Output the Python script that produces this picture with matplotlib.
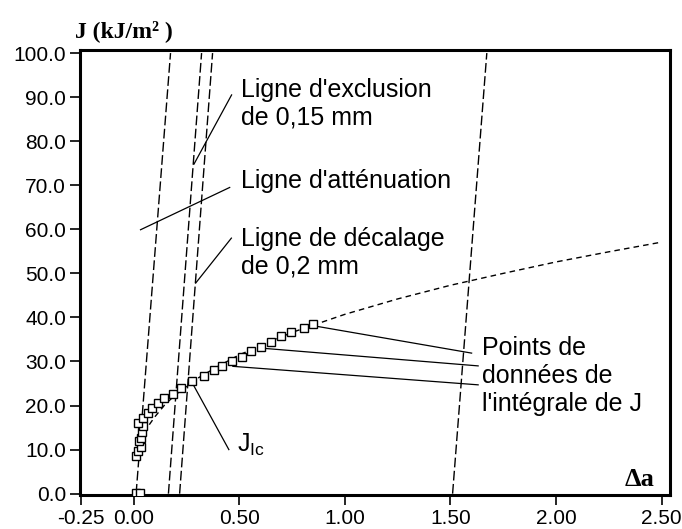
import matplotlib
matplotlib.use('Agg')
import matplotlib.pyplot as plt
import numpy as np

plt.rcParams['font.family'] = ['Liberation Sans', 'DejaVu Sans']
plt.rcParams['mathtext.fontset'] = 'custom'
plt.rcParams['mathtext.rm'] = 'Liberation Sans'

# J-integral data points (delta a in mm, J in kJ/m2)
da_pts = [0.012, 0.032, 0.013, 0.020, 0.033, 0.025, 0.036, 0.039, 0.047, 0.020,
          0.044, 0.068, 0.089, 0.115, 0.144, 0.189, 0.226, 0.276, 0.332, 0.38,
          0.42, 0.467, 0.513, 0.554, 0.605, 0.652, 0.696, 0.744, 0.807, 0.847]
j_pts = [0.2, 0.2, 8.5, 9.6, 10.7, 11.9, 12.6, 13.9, 15.3, 16.0,
         17.2, 18.3, 19.4, 20.6, 21.8, 22.7, 24.0, 25.5, 26.6, 28.0,
         29.0, 30.0, 31.0, 32.3, 33.3, 34.5, 35.7, 36.8, 37.6, 38.5]

# power-law fit curve
fit_da = [0.02, 0.03, 0.05, 0.075, 0.1, 0.15, 0.2, 0.3, 0.4, 0.5, 0.75,
          1.0, 1.25, 1.5, 1.75, 2.0, 2.25, 2.5]
fit_j = [9.6, 11.2, 13.5, 15.7, 17.4, 20.3, 22.5, 26.1, 28.9, 31.5, 36.6,
         40.7, 44.2, 47.3, 50.0, 52.6, 54.9, 57.1]

# construction lines: delta a at J = 0 and J = 100
line_j = [0, 100]
blunt_da = [0.012, 0.175]
excl015_da = [0.165, 0.322]
offset02_da = [0.218, 0.374]
excl15_da = [1.51, 1.672]

xticks = [-0.25, 0.0, 0.5, 1.0, 1.5, 2.0, 2.5]
yticks = [0, 10, 20, 30, 40, 50, 60, 70, 80, 90, 100]

fig = plt.figure(figsize=(6.82, 5.29), dpi=100)
ax = fig.add_axes([0.1173, 0.0643, 0.8651, 0.8412])

dash_long = (0, (7, 2.5))
for xs in (blunt_da, excl015_da, offset02_da, excl15_da):
    ax.plot(xs, line_j, color='black', lw=1.0, linestyle=dash_long)

ax.plot(fit_da, fit_j, color='black', lw=1.0, linestyle=(0, (4, 3)))
ax.plot(da_pts, j_pts, linestyle='none', marker='s', ms=5.2, mew=1.0,
        mfc='white', mec='black', zorder=5)

# pointer lines
lk = dict(color='black', lw=0.9)
ax.plot([0.464, 0.286], [90.5, 74.8], **lk)
ax.plot([0.455, 0.033], [69.5, 59.9], **lk)
ax.plot([0.463, 0.294], [58.0, 47.8], **lk)
ax.plot([0.276, 0.451], [25.3, 10.0], **lk)
ax.plot([0.865, 1.60], [38.0, 31.9], **lk)
ax.plot([0.612, 1.631], [33.0, 29.0], **lk)
ax.plot([0.47, 1.631], [28.9, 24.7], **lk)

tk = dict(fontsize=18, va='baseline', ha='left')
ax.text(0.51, 90.0, "Ligne d'exclusion", **tk)
ax.text(0.51, 83.7, "de 0,15 mm", **tk)
ax.text(0.51, 69.3, "Ligne d'atténuation", **tk)
ax.text(0.51, 56.1, "Ligne de décalage", **tk)
ax.text(0.51, 49.9, "de 0,2 mm", **tk)
ax.text(1.647, 31.5, "Points de", **tk)
ax.text(1.647, 25.1, "données de", **tk)
ax.text(1.647, 18.7, "l'intégrale de J", **tk)
ax.text(0.491, 9.6, r'J$_{\mathrm{Ic}}$', **tk)

fig.text(0.110, 0.9306, 'J (kJ/m² )', fontsize=17, fontweight='bold',
         family='Liberation Serif', va='baseline', ha='left')
ax.text(2.468, 1.7, 'Δa', fontsize=19, fontweight='bold',
        family='Liberation Serif', va='baseline', ha='right')

ax.set_xlim(-0.2535, 2.539)
ax.set_ylim(-0.3, 100.7)
ax.set_xticks(xticks)
ax.set_xticklabels(['%.2f' % v for v in xticks])
ax.set_yticks(yticks)
ax.set_yticklabels(['%.1f' % v for v in yticks])
ax.tick_params(direction='out', length=7, width=1.2, labelsize=15, pad=3)
for s in ax.spines.values():
    s.set_linewidth(2.2)

fig.savefig('out.png', dpi=100)
